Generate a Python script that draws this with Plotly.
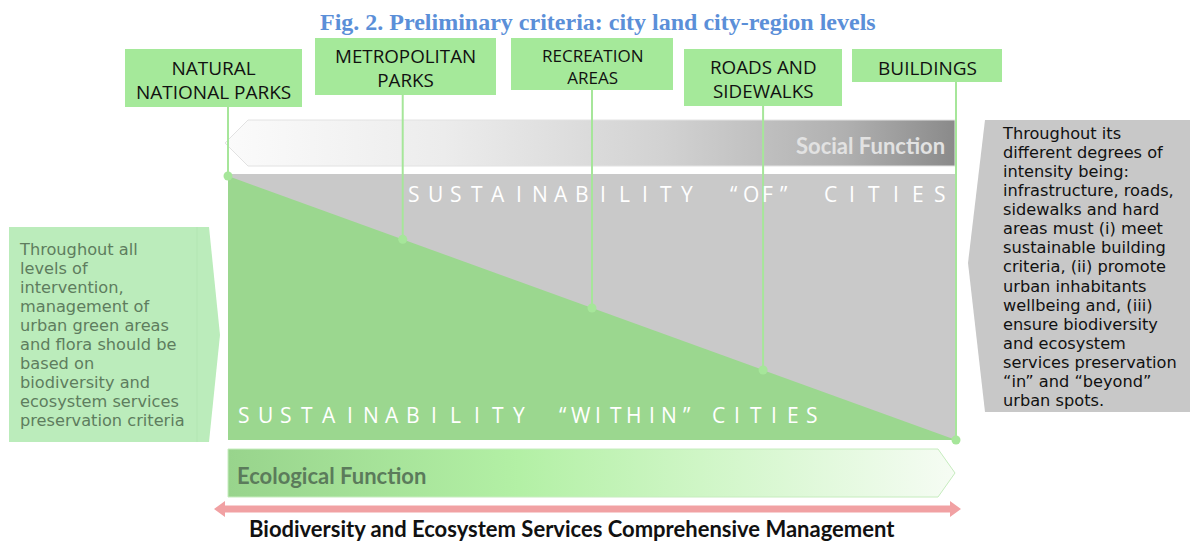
import plotly.graph_objects as go

W, H = 1193, 541

# ---------------- data ----------------
title_text = "Fig. 2. Preliminary criteria: city land city-region levels"
levels = ["NATURAL NATIONAL PARKS", "METROPOLITAN PARKS", "RECREATION AREAS",
          "ROADS AND SIDEWALKS", "BUILDINGS"]
level_lines = [["NATURAL", "NATIONAL PARKS"], ["METROPOLITAN", "PARKS"],
               ["RECREATION", "AREAS"], ["ROADS AND", "SIDEWALKS"], ["BUILDINGS"]]
urban_intensity = [0.0, 0.24, 0.50, 0.735, 1.0]      # position of each level
ecological_share = [1.0, 0.76, 0.50, 0.265, 0.0]     # "within" share at each level
social_label = "Social Function"
ecological_label = "Ecological Function"
of_words = ["SUSTAINABILITY", "\u201cOF\u201d", "CITIES"]
within_words = ["SUSTAINABILITY", "\u201cWITHIN\u201d", "CITIES"]
left_note = ["Throughout all", "levels of", "intervention,", "management of",
             "urban green areas", "and flora should be", "based on",
             "biodiversity and", "ecosystem services", "preservation criteria"]
right_note = ["Throughout its", "different degrees of", "intensity being:",
              "infrastructure, roads,", "sidewalks and hard", "areas must (i) meet",
              "sustainable building", "criteria, (ii) promote", "urban inhabitants",
              "wellbeing and, (iii)", "ensure biodiversity", "and ecosystem",
              "services preservation", "\u201cin\u201d and \u201cbeyond\u201d", "urban spots."]
bottom_label = "Biodiversity and Ecosystem Services Comprehensive Management"

# ---------------- layout geometry (pixels) ----------------
PX0, PX1, PY_TOP, PY_BOT = 228, 956, 176, 440


def dx(px):
    return (px - PX0) / (PX1 - PX0)


def dy(py):
    return (PY_BOT - py) / (PY_BOT - PY_TOP)


def xp(px):
    return px / W


def yp(py):
    return 1 - py / H


def ppath(pts):
    return "M " + " L ".join(f"{xp(a):.5f},{yp(b):.5f}" for a, b in pts) + " Z"


GREEN_LINE = "#a6e69a"
box_geom = [(125, 49, 302, 107), (315, 38, 496, 95), (511, 38, 673, 90),
            (684, 49, 842, 106), (852, 49, 1002, 82)]
box_text_y = [80, 67.5, 66, 79.5, 68]       # centre of the label block
box_line_gap = [24, 24, 22, 24, 24]
box_font = [19, 18.8, 17, 18.8, 19]

fig = go.Figure()
shapes = []
annotations = []

# background gray block
shapes.append(dict(type="rect", xref="paper", yref="paper", x0=xp(228), x1=xp(956),
                   y0=yp(440), y1=yp(174), fillcolor="#c9c9c9", line=dict(width=0),
                   layer="below"))
# left note pentagon
shapes.append(dict(type="path", xref="paper", yref="paper",
                   path=ppath([(9, 227), (209, 227), (220, 335), (209, 442), (9, 442)]),
                   fillcolor="#bbecbb", line=dict(width=0), layer="below"))
shapes.append(dict(type="line", xref="paper", yref="paper", x0=xp(197), x1=xp(197),
                   y0=yp(442), y1=yp(227), line=dict(width=1, color="#b3e6b3"),
                   layer="below"))
# right note pentagon
shapes.append(dict(type="path", xref="paper", yref="paper",
                   path=ppath([(985, 120), (1190, 120), (1190, 412), (985, 412), (968, 263)]),
                   fillcolor="#c8c8c8", line=dict(width=0), layer="below"))
# level boxes
for (x0, y0, x1, y1) in box_geom:
    shapes.append(dict(type="rect", xref="paper", yref="paper", x0=xp(x0), x1=xp(x1),
                       y0=yp(y1), y1=yp(y0), fillcolor="#a5e99a",
                       line=dict(width=0), layer="below"))
# pink double arrow
shapes.append(dict(type="path", xref="paper", yref="paper",
                   path=ppath([(214, 509), (225, 501), (225, 505.5), (950, 505.5), (950, 501),
                               (961, 509), (950, 517), (950, 512.5), (225, 512.5), (225, 517)]),
                   fillcolor="#f1a1a3", line=dict(width=0), layer="above"))

# green "within" area from data
fig.add_trace(go.Scatter(x=urban_intensity, y=ecological_share, mode="lines",
                         fill="tozeroy", fillcolor="#9bd78f",
                         line=dict(width=0, color="#9bd78f"), hoverinfo="skip"))

# social function arrow (gradient)
soc = [(225, 143), (248, 120), (955, 120), (955, 166), (248, 166), (225, 143)]
fig.add_trace(go.Scatter(x=[dx(a) for a, b in soc], y=[dy(b) for a, b in soc],
                         mode="lines", fill="toself",
                         fillgradient=dict(type="horizontal",
                                           colorscale=[[0, "#fbfbfb"], [0.3, "#ececec"],
                                                       [0.6, "#d2d2d2"], [0.85, "#b0b0b0"],
                                                       [1, "#8a8a8a"]]),
                         line=dict(width=1, color="#e2e2e2"), hoverinfo="skip"))
# ecological function arrow (gradient)
eco = [(228, 449), (938, 449), (955, 473), (938, 497), (228, 497), (228, 449)]
fig.add_trace(go.Scatter(x=[dx(a) for a, b in eco], y=[dy(b) for a, b in eco],
                         mode="lines", fill="toself",
                         fillgradient=dict(type="horizontal",
                                           colorscale=[[0, "#98d48c"], [0.4, "#b3f0a5"],
                                                       [0.65, "#cff6c6"], [1, "#f6fcf4"]]),
                         line=dict(width=1, color="#c6ecbe"), hoverinfo="skip"))

# connectors from level boxes to the diagonal
for i, (v, s) in enumerate(zip(urban_intensity, ecological_share)):
    fig.add_trace(go.Scatter(x=[v, v], y=[dy(box_geom[i][3]), s], mode="lines",
                             line=dict(width=2, color=GREEN_LINE), hoverinfo="skip"))
fig.add_trace(go.Scatter(x=urban_intensity, y=ecological_share, mode="markers",
                         marker=dict(size=9, color=GREEN_LINE), hoverinfo="skip"))


def add_text(text, x, y, size, color, family="Lato", xanchor="center", bold=False,
             yanchor="middle", align="center"):
    if bold:
        text = f"<b>{text}</b>"
    annotations.append(dict(text=text, x=xp(x), y=yp(y), xref="paper", yref="paper",
                            showarrow=False, xanchor=xanchor, yanchor=yanchor,
                            align=align, borderpad=0,
                            font=dict(size=size, color=color, family=family)))


def block(lines, glyph_px, gap_px):
    """multi-line text whose line gap is set by the base font and glyphs by spans"""
    return "<br>".join(f"<span style='font-size:{glyph_px}px'>{ln}</span>" for ln in lines), gap_px / 1.3


def spaced(word, x_first, x_last, y, size=21):
    n = len(word)
    for i, ch in enumerate(word):
        x = x_first + i * (x_last - x_first) / (n - 1)
        add_text(ch, x, y, size, "white", family="Open Sans")


# title
add_text(title_text, 598, 22, 24, "#5b8fd8", family="Liberation Serif", bold=True)

# level labels
for i, lines in enumerate(level_lines):
    x0, y0, x1, y1 = box_geom[i]
    txt, base = block(lines, box_font[i], box_line_gap[i])
    add_text(txt, (x0 + x1) / 2, box_text_y[i], base, "#111111", family="Open Sans")

# spaced headings
of_pos = [(414, 687), (734, 784), (830, 940)]
for w, (a, b) in zip(of_words, of_pos):
    spaced(w, a, b, 194)
within_pos = [(244, 519), (563, 687), (718, 812)]
for w, (a, b) in zip(within_words, within_pos):
    spaced(w, a, b, 415)

# function labels
add_text(social_label, 946, 145, 22, "#e2e2e2", xanchor="right", bold=True)
add_text(ecological_label, 236, 475, 22, "#5b7b5b", xanchor="left", bold=True)

# notes (one multi-line text block each)
txt, base = block(left_note, 16.2, 19)
add_text(txt, 18, 249 + 19 * 4.5, base, "#5e7d5e", family="DejaVu Sans",
         xanchor="left", align="left")
txt, base = block(right_note, 16.2, 19.07)
add_text(txt, 1001, 134 + 19.07 * 7, base, "#111111", family="DejaVu Sans",
         xanchor="left", align="left")

add_text(bottom_label, 572, 528, 22, "#111111", bold=True)

fig.update_layout(
    width=W, height=H, autosize=False,
    margin=dict(l=0, r=0, t=0, b=0, pad=0),
    paper_bgcolor="white", plot_bgcolor="white",
    showlegend=False,
    xaxis=dict(range=[dx(0), dx(W)], visible=False, fixedrange=True),
    yaxis=dict(range=[dy(H), dy(0)], visible=False, fixedrange=True),
    shapes=shapes, annotations=annotations,
)

fig.write_html("out.html", config={"displayModeBar": False},
               post_script="document.body.style.margin='0';")
